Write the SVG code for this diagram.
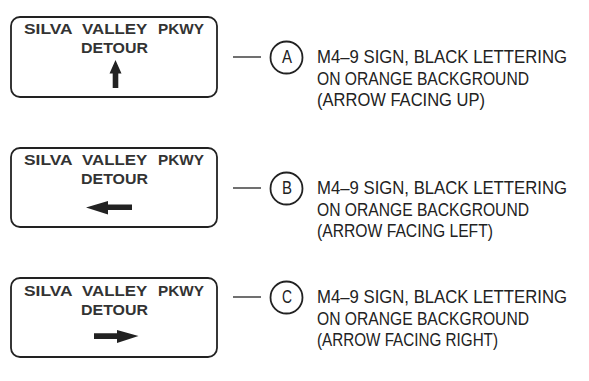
<svg xmlns="http://www.w3.org/2000/svg" width="589" height="381" viewBox="0 0 589 381">
<style>
.box{fill:#fff;stroke:#222;stroke-width:1.8}
.st{font-family:"Liberation Sans",Arial,sans-serif;font-weight:bold;font-size:15.5px;fill:#333}
.arr{fill:#222}
.lab{font-family:"Liberation Sans",Arial,sans-serif;font-size:18px;fill:#222}
.circ{fill:none;stroke:#222;stroke-width:1.8}
.ln{stroke:#222;stroke-width:1.3}
</style>
<rect width="589" height="381" fill="#fff"/>
<g id="signA">
<rect class="box" x="11" y="17" width="206" height="80" rx="9"/>
<text class="st" y="34"><tspan x="24" textLength="48" lengthAdjust="spacingAndGlyphs">SILVA</tspan> <tspan x="82" textLength="65" lengthAdjust="spacingAndGlyphs">VALLEY</tspan> <tspan x="158" textLength="46" lengthAdjust="spacingAndGlyphs">PKWY</tspan></text>
<text class="st" x="81" y="53" textLength="67" lengthAdjust="spacingAndGlyphs">DETOUR</text>
<polygon class="arr" points="115.5,60 121.5,73.5 118.3,73.5 118.3,88 112.7,88 112.7,73.5 109.5,73.5"/>
</g>
<g id="signB">
<rect class="box" x="11" y="148" width="206" height="79" rx="9"/>
<text class="st" y="165"><tspan x="24" textLength="48" lengthAdjust="spacingAndGlyphs">SILVA</tspan> <tspan x="82" textLength="65" lengthAdjust="spacingAndGlyphs">VALLEY</tspan> <tspan x="158" textLength="46" lengthAdjust="spacingAndGlyphs">PKWY</tspan></text>
<text class="st" x="81" y="184" textLength="67" lengthAdjust="spacingAndGlyphs">DETOUR</text>
<polygon class="arr" points="86,207.5 108,201 108,204.5 132,204.5 132,210 108,210 108,214.5"/>
</g>
<g id="signC">
<rect class="box" x="11" y="278" width="206" height="79" rx="9"/>
<text class="st" y="296"><tspan x="24" textLength="48" lengthAdjust="spacingAndGlyphs">SILVA</tspan> <tspan x="82" textLength="65" lengthAdjust="spacingAndGlyphs">VALLEY</tspan> <tspan x="158" textLength="46" lengthAdjust="spacingAndGlyphs">PKWY</tspan></text>
<text class="st" x="81" y="315" textLength="67" lengthAdjust="spacingAndGlyphs">DETOUR</text>
<polygon class="arr" points="138.5,336 117,330 117,333.3 94,333.3 94,339 117,339 117,343"/>
</g>
<g id="connectors">
<line class="ln" x1="233" y1="57" x2="261" y2="57"/>
<line class="ln" x1="233" y1="188" x2="261" y2="188"/>
<line class="ln" x1="233" y1="297" x2="261" y2="297"/>
</g>
<g id="labelA">
<circle class="circ" cx="286.5" cy="57.5" r="16"/>
<text class="lab" x="282" y="63" textLength="10" lengthAdjust="spacingAndGlyphs">A</text>
<text class="lab" x="317" y="63" textLength="250" lengthAdjust="spacingAndGlyphs">M4–9 SIGN, BLACK LETTERING</text>
<text class="lab" x="317" y="85" textLength="212" lengthAdjust="spacingAndGlyphs">ON ORANGE BACKGROUND</text>
<text class="lab" x="317" y="106" textLength="168" lengthAdjust="spacingAndGlyphs">(ARROW FACING UP)</text>
</g>
<g id="labelB">
<circle class="circ" cx="286.5" cy="188.5" r="16"/>
<text class="lab" x="282" y="194" textLength="10" lengthAdjust="spacingAndGlyphs">B</text>
<text class="lab" x="317" y="194" textLength="250" lengthAdjust="spacingAndGlyphs">M4–9 SIGN, BLACK LETTERING</text>
<text class="lab" x="317" y="216" textLength="212" lengthAdjust="spacingAndGlyphs">ON ORANGE BACKGROUND</text>
<text class="lab" x="317" y="237" textLength="176" lengthAdjust="spacingAndGlyphs">(ARROW FACING LEFT)</text>
</g>
<g id="labelC">
<circle class="circ" cx="286.5" cy="297.5" r="16"/>
<text class="lab" x="282" y="303" textLength="10" lengthAdjust="spacingAndGlyphs">C</text>
<text class="lab" x="317" y="303" textLength="250" lengthAdjust="spacingAndGlyphs">M4–9 SIGN, BLACK LETTERING</text>
<text class="lab" x="317" y="325" textLength="212" lengthAdjust="spacingAndGlyphs">ON ORANGE BACKGROUND</text>
<text class="lab" x="317" y="346" textLength="181" lengthAdjust="spacingAndGlyphs">(ARROW FACING RIGHT)</text>
</g>
</svg>
